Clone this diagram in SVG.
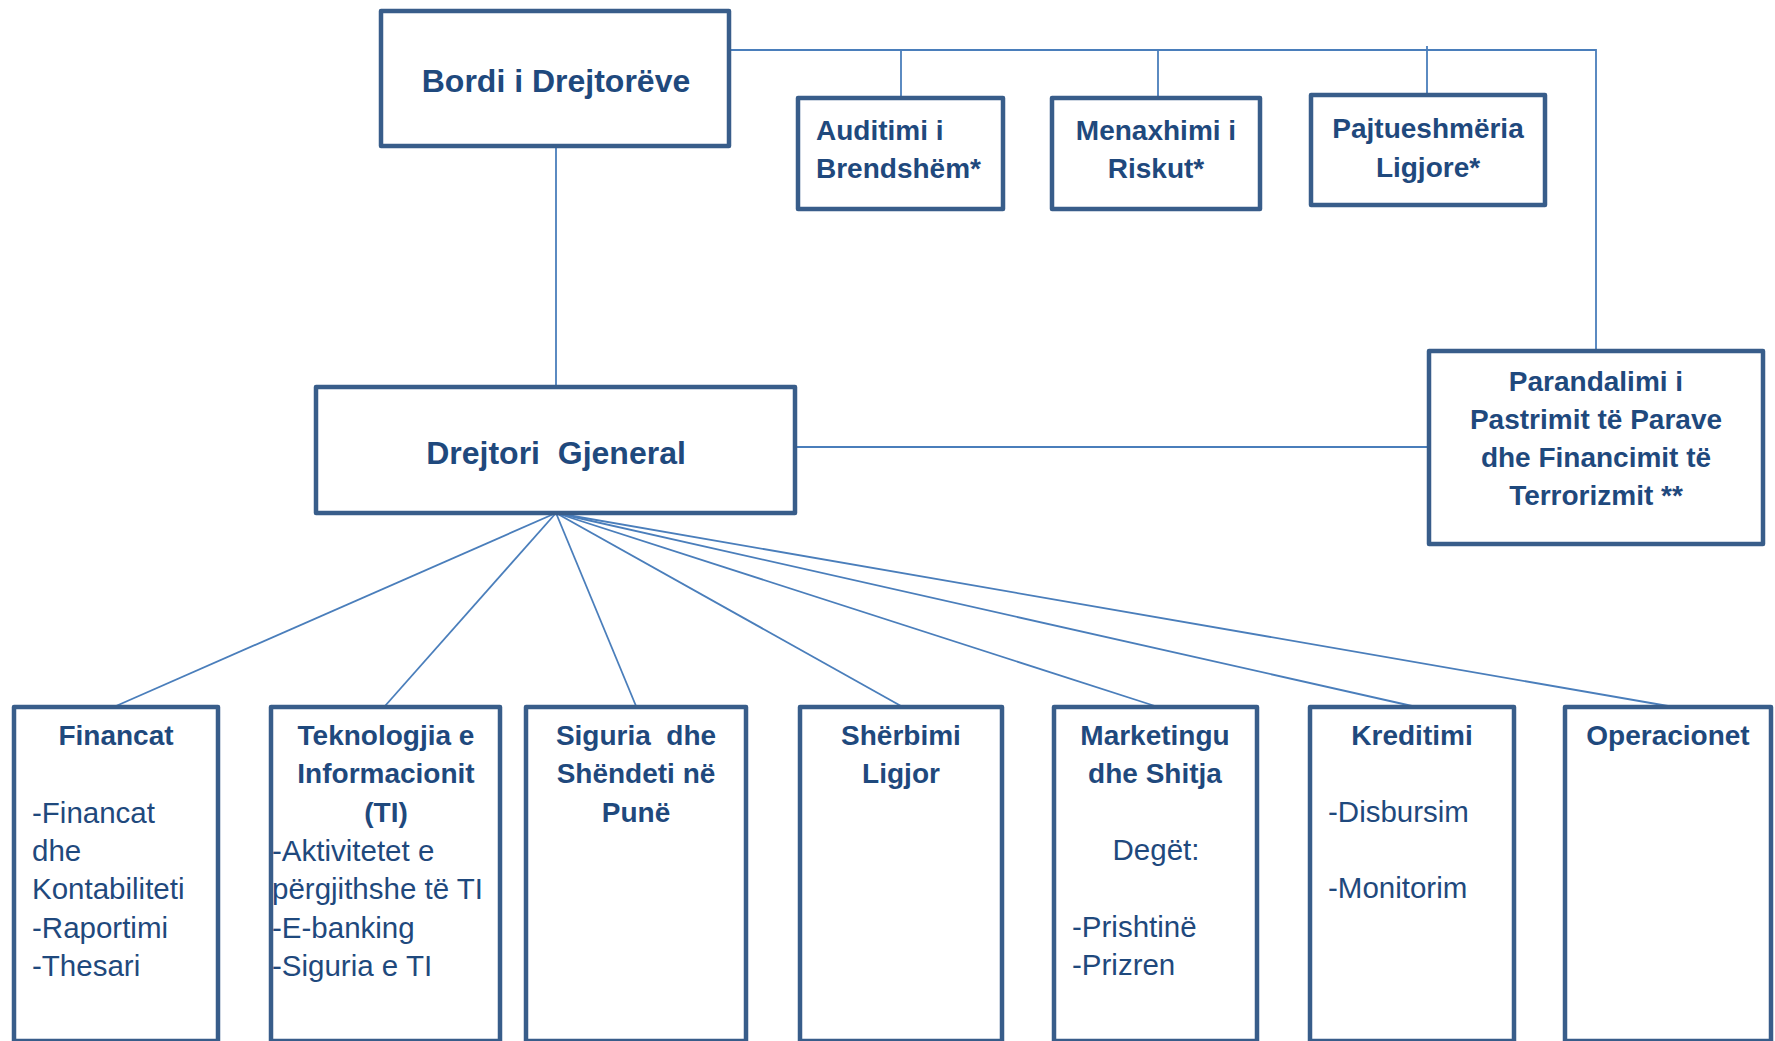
<svg xmlns="http://www.w3.org/2000/svg" width="1775" height="1041" viewBox="0 0 1775 1041">
<style>
.box{fill:#fff;stroke:#385D8A;stroke-width:4.5;stroke-linejoin:round}
.ln{fill:none;stroke:#4A7EBB;stroke-width:1.8}
text{font-family:"Liberation Sans",Arial,sans-serif;fill:#1F497D}
.h1{font-size:32px;font-weight:bold;text-anchor:middle}
.h2{font-size:28px;font-weight:bold}
.c{text-anchor:middle}
.r{font-size:29.5px}
</style>
<rect width="1775" height="1041" fill="#fff"/>
<g id="connectors">
<polyline class="ln" points="731,50 1596,50 1596,350"/>
<line class="ln" x1="901" y1="50" x2="901" y2="97"/>
<line class="ln" x1="1158" y1="50" x2="1158" y2="97"/>
<line class="ln" x1="1427" y1="46" x2="1427" y2="94"/>
<line class="ln" x1="556" y1="148" x2="556" y2="386"/>
<line class="ln" x1="797" y1="447" x2="1428" y2="447"/>
<line class="ln" x1="556" y1="513" x2="116" y2="706"/>
<line class="ln" x1="556" y1="513" x2="385" y2="706"/>
<line class="ln" x1="556" y1="513" x2="636" y2="706"/>
<line class="ln" x1="556" y1="513" x2="901" y2="706"/>
<line class="ln" x1="556" y1="513" x2="1155" y2="706"/>
<line class="ln" x1="556" y1="513" x2="1412" y2="706"/>
<line class="ln" x1="556" y1="513" x2="1668" y2="706"/>
</g>
<g id="bordi">
<rect class="box" x="381" y="11" width="348" height="135"/>
<text class="h1" x="556" y="92">Bordi i Drejtorëve</text>
</g>
<g id="auditimi">
<rect class="box" x="798" y="98" width="205" height="111"/>
<text class="h2" x="816" y="140">Auditimi i</text>
<text class="h2" x="816" y="178">Brendshëm*</text>
</g>
<g id="menaxhimi">
<rect class="box" x="1052" y="98" width="208" height="111"/>
<text class="h2 c" x="1156" y="140">Menaxhimi i</text>
<text class="h2 c" x="1156" y="178">Riskut*</text>
</g>
<g id="pajtueshmeria">
<rect class="box" x="1311" y="95" width="234" height="110"/>
<text class="h2 c" x="1428" y="138">Pajtueshmëria</text>
<text class="h2 c" x="1428" y="177">Ligjore*</text>
</g>
<g id="drejtori">
<rect class="box" x="316" y="387" width="479" height="126"/>
<text class="h1" x="556" y="464" xml:space="preserve">Drejtori  Gjeneral</text>
</g>
<g id="parandalimi">
<rect class="box" x="1429" y="351" width="334" height="193"/>
<text class="h2 c" x="1596" y="391">Parandalimi i</text>
<text class="h2 c" x="1596" y="429">Pastrimit të Parave</text>
<text class="h2 c" x="1596" y="467">dhe Financimit të</text>
<text class="h2 c" x="1596" y="505">Terrorizmit **</text>
</g>
<g id="financat">
<rect class="box" x="14" y="707" width="204" height="334"/>
<text class="h2 c" x="116" y="745">Financat</text>
<text class="r" x="32" y="823">-Financat</text>
<text class="r" x="32" y="861">dhe</text>
<text class="r" x="32" y="899">Kontabiliteti</text>
<text class="r" x="32" y="938">-Raportimi</text>
<text class="r" x="32" y="976">-Thesari</text>
</g>
<g id="teknologjia">
<rect class="box" x="271" y="707" width="229" height="334"/>
<text class="h2 c" x="386" y="745">Teknologjia e</text>
<text class="h2 c" x="386" y="783">Informacionit</text>
<text class="h2 c" x="386" y="822">(TI)</text>
<text class="r" x="272" y="861">-Aktivitetet e</text>
<text class="r" x="272" y="899">përgjithshe të TI</text>
<text class="r" x="272" y="938">-E-banking</text>
<text class="r" x="272" y="976">-Siguria e TI</text>
</g>
<g id="siguria">
<rect class="box" x="526" y="707" width="220" height="334"/>
<text class="h2 c" x="636" y="745" xml:space="preserve">Siguria  dhe</text>
<text class="h2 c" x="636" y="783">Shëndeti në</text>
<text class="h2 c" x="636" y="822">Punë</text>
</g>
<g id="sherbimi">
<rect class="box" x="800" y="707" width="202" height="334"/>
<text class="h2 c" x="901" y="745">Shërbimi</text>
<text class="h2 c" x="901" y="783">Ligjor</text>
</g>
<g id="marketingu">
<rect class="box" x="1054" y="707" width="203" height="334"/>
<text class="h2 c" x="1155" y="745">Marketingu</text>
<text class="h2 c" x="1155" y="783">dhe Shitja</text>
<text class="r c" x="1156" y="860">Degët:</text>
<text class="r" x="1072" y="937">-Prishtinë</text>
<text class="r" x="1072" y="975">-Prizren</text>
</g>
<g id="kreditimi">
<rect class="box" x="1310" y="707" width="204" height="334"/>
<text class="h2 c" x="1412" y="745">Kreditimi</text>
<text class="r" x="1328" y="822">-Disbursim</text>
<text class="r" x="1328" y="898">-Monitorim</text>
</g>
<g id="operacionet">
<rect class="box" x="1565" y="707" width="206" height="334"/>
<text class="h2 c" x="1668" y="745">Operacionet</text>
</g>
</svg>
